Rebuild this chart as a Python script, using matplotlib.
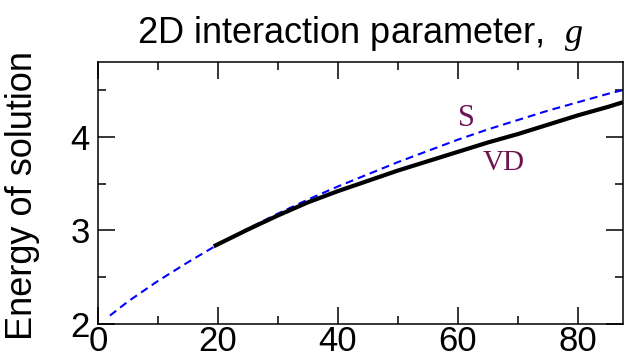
import matplotlib
matplotlib.use("Agg")
import matplotlib.pyplot as plt
from matplotlib.ticker import MultipleLocator

plt.rcParams['font.family'] = ['Liberation Sans', 'DejaVu Sans']
plt.rcParams['mathtext.fontset'] = 'custom'
plt.rcParams['mathtext.it'] = 'Liberation Serif:italic'

# dashed curve S
g_s = [2, 5, 10, 15, 20, 25, 30, 35, 40, 45, 50, 55, 60, 65, 70, 75, 80, 85, 87.5]
e_s = [2.09, 2.24, 2.46, 2.66, 2.85, 3.02, 3.18, 3.33, 3.47, 3.60, 3.73, 3.85,
       3.97, 4.08, 4.18, 4.28, 4.37, 4.46, 4.50]

# solid curve VD
g_vd = [19.3, 25, 30, 35, 40, 45, 50, 55, 60, 65, 70, 75, 80, 85, 87.5]
e_vd = [2.83, 3.01, 3.16, 3.30, 3.42, 3.53, 3.64, 3.74, 3.84, 3.94, 4.03,
        4.13, 4.23, 4.32, 4.37]

label_col = '#6e1250'

fig = plt.figure(figsize=(6.26, 3.62), dpi=100)
ax = fig.add_axes([0.1565, 0.105, 0.8385, 0.7237])

ax.plot(g_s, e_s, color='#0000ff', lw=1.5, dashes=(3.8, 2.4))
ax.plot(g_vd, e_vd, color='black', lw=3.0, solid_capstyle='butt')

ax.text(61.5, 4.20, 'S', family='Liberation Serif', fontsize=22,
        color=label_col, ha='center', va='center')
ax.text(67.7, 3.72, 'VD', family='Liberation Serif', fontsize=21,
        color=label_col, ha='center', va='center')

ax.set_xlim(0, 87.5)
ax.set_ylim(2, 4.8)
ax.xaxis.set_major_locator(MultipleLocator(20))
ax.xaxis.set_minor_locator(MultipleLocator(10))
ax.yaxis.set_major_locator(MultipleLocator(1))
ax.yaxis.set_minor_locator(MultipleLocator(0.5))

ax.tick_params(which='both', direction='in', top=True, right=True,
               width=1.1, labelsize=25)
ax.tick_params(which='major', length=12)
ax.tick_params(which='minor', length=6)
ax.tick_params(axis='x', pad=1)
ax.tick_params(axis='y', pad=6)
for sp in ax.spines.values():
    sp.set_linewidth(1.1)

ax.set_title(r'2D interaction parameter,  $g$', fontsize=26, pad=14)
ax.set_ylabel('Energy of solution', fontsize=26)
ax.yaxis.set_label_coords(-0.11, 0.49)

fig.savefig('out.png', dpi=100)
